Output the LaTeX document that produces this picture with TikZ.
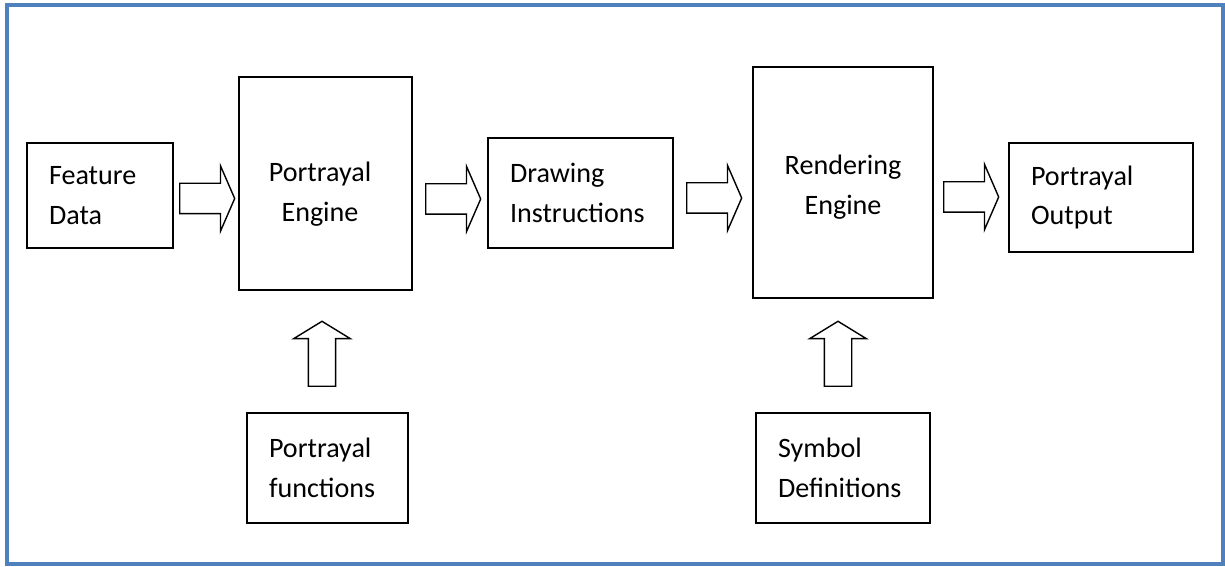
\documentclass[tikz,border=0pt]{standalone}
\usepackage{fontspec}
\setmainfont{Carlito}
\usetikzlibrary{shapes.arrows}
\definecolor{frameblue}{RGB}{79,129,189}
\tikzset{
  box/.style={draw, line width=1.1pt, align=left, inner xsep=0.44cm, inner ysep=0pt},
  engine/.style={draw, line width=1.1pt},
  enginetext/.style={align=center, inner sep=0pt},
  fatarrow/.style={single arrow, draw, line width=0.8pt, minimum width=0pt, inner sep=0.29cm,
    single arrow head extend=0.35cm, single arrow tip angle=133, minimum height=1.1cm, anchor=tail},
  uparrow/.style={fatarrow, shape border rotate=90, inner sep=0.26cm,
    single arrow head extend=0.29cm, single arrow tip angle=117, minimum height=1.3cm}
}
\begin{document}
\begin{tikzpicture}[x=0.02cm, y=-0.02cm, font={\fontsize{16pt}{22.7pt}\selectfont}]
\useasboundingbox (0,0) rectangle (1225,567);
\draw[frameblue, line width=2.3pt] (7,5) rectangle (1223,564);
% top row
\node[box, minimum width=2.92cm, minimum height=2.10cm, text width=2.04cm] (feat) at (100,195.5) {Feature\\Data};
\node[engine, minimum width=3.46cm, minimum height=4.26cm] (peng) at (325.5,183.5) {};
\node[enginetext] (pengtext) at (320,194) {Portrayal\\Engine};
\node[box, minimum width=3.70cm, minimum height=2.20cm, text width=2.82cm] (drw) at (580.5,193) {Drawing\\Instructions};
\node[engine, minimum width=3.60cm, minimum height=4.62cm] (reng) at (843,182.5) {};
\node[enginetext] (rengtext) at (843,187) {Rendering\\Engine};
\node[box, minimum width=3.68cm, minimum height=2.18cm, text width=2.80cm] (pout) at (1101,197.5) {Portrayal\\Output};
% bottom row
\node[box, minimum width=3.22cm, minimum height=2.20cm, text width=2.34cm] (pfun) at (327.5,468) {Portrayal\\functions};
\node[box, minimum width=3.48cm, minimum height=2.20cm, text width=2.60cm] (symb) at (843,468) {Symbol\\Definitions};
% arrows
\node[fatarrow] (arr1) at (179,198.5) {};
\node[fatarrow] (arr2) at (425,199) {};
\node[fatarrow] (arr3) at (686,198) {};
\node[fatarrow] (arr4) at (943,197) {};
\node[uparrow] (arr5) at (322,387) {};
\node[uparrow] (arr6) at (838,387) {};
\end{tikzpicture}
\end{document}
